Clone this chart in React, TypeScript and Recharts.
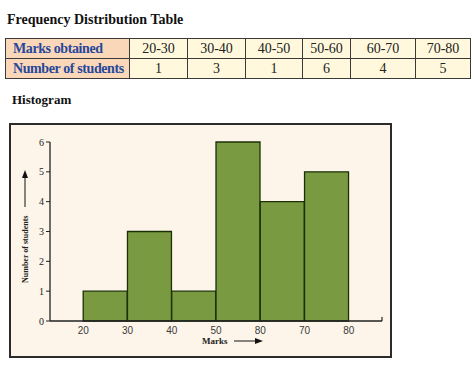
import React from 'react';
import { BarChart, Bar, XAxis, YAxis } from 'recharts';

const markRanges = ['20-30', '30-40', '40-50', '50-60', '60-70', '70-80'];
const binStarts = [20, 30, 40, 50, 60, 70];
const students = [1, 3, 1, 6, 4, 5];
const xTicks = [20, 30, 40, 50, 60, 70, 80];
// labels as printed in the source (the 60 tick reads "80")
const xTickLabels = ['20', '30', '40', '50', '80', '70', '80'];
const yTicks = [0, 1, 2, 3, 4, 5, 6];

const chartData = markRanges.map((range, i) => ({
  range,
  mid: binStarts[i] + 5,
  count: students[i],
}));

const serif = '"Liberation Serif", "Times New Roman", serif';
const sans = '"Liberation Sans", Arial, sans-serif';

const colWidths = [124, 58, 58, 57, 48, 65, 55];

const cellBase: React.CSSProperties = {
  border: '1.5px solid #3a3a3a',
  padding: 0,
  height: 19,
  lineHeight: '19px',
  fontFamily: serif,
  fontSize: 14,
  textAlign: 'center',
  background: '#fff8dc',
  color: '#222',
};

const headCell: React.CSSProperties = {
  ...cellBase,
  background: '#fad7b9',
  color: '#27479a',
  fontWeight: 'bold',
  textAlign: 'left',
  paddingLeft: 7,
  letterSpacing: -0.4,
  whiteSpace: 'nowrap',
};

export default function App() {
  return (
    <div style={{ position: 'absolute', left: 0, top: 0, width: 474, height: 368, background: '#fff', overflow: 'hidden' }}>
      <div style={{ position: 'absolute', left: 7, top: 12, fontFamily: serif, fontWeight: 'bold', fontSize: 14, color: '#111' }}>
        Frequency Distribution Table
      </div>
      <table
        style={{
          position: 'absolute',
          left: 5,
          top: 38,
          borderCollapse: 'collapse',
          tableLayout: 'fixed',
          width: 466,
        }}
      >
        <colgroup>
          {colWidths.map((w, i) => (
            <col key={i} style={{ width: w }} />
          ))}
        </colgroup>
        <tbody>
          <tr>
            <td style={headCell}>Marks obtained</td>
            {markRanges.map((r) => (
              <td key={r} style={cellBase}>{r}</td>
            ))}
          </tr>
          <tr>
            <td style={headCell}>Number of students</td>
            {students.map((s, i) => (
              <td key={i} style={cellBase}>{s}</td>
            ))}
          </tr>
        </tbody>
      </table>
      <div style={{ position: 'absolute', left: 12, top: 92, fontFamily: serif, fontWeight: 'bold', fontSize: 13, color: '#111' }}>
        Histogram
      </div>
      <div
        style={{
          position: 'absolute',
          left: 9,
          top: 123,
          width: 379,
          height: 231,
          border: '2px solid #2b2b2b',
          background: '#fdf5e9',
        }}
      />
      <div style={{ position: 'absolute', left: 9, top: 123 }}>
        <BarChart
          width={382}
          height={234}
          data={chartData}
          barCategoryGap={0}
          margin={{ top: 19, right: 9, bottom: 6, left: 0 }}
        >
          <XAxis
            type="number"
            dataKey="mid"
            domain={[12.5, 87.5]}
            ticks={xTicks}
            interval={0}
            height={30}
            tickFormatter={(_v: number, i: number) => xTickLabels[i]}
            tickLine={false}
            axisLine={{ stroke: '#222', strokeWidth: 1.3 }}
            tick={{ fill: '#3a3a3a', fontSize: 10, fontFamily: sans }}
            tickMargin={0}
          />
          <YAxis
            type="number"
            domain={[0, 6]}
            ticks={yTicks}
            interval={0}
            width={41}
            tickSize={4}
            tickMargin={2}
            axisLine={{ stroke: '#222', strokeWidth: 1.3 }}
            tickLine={{ stroke: '#222' }}
            tick={{ fill: '#222', fontSize: 10, fontFamily: serif }}
          />
          <Bar
            dataKey="count"
            fill="#7a9a42"
            stroke="#1c3006"
            strokeWidth={1.3}
            isAnimationActive={false}
          />
        </BarChart>
      </div>
      <svg width={474} height={368} style={{ position: 'absolute', left: 0, top: 0, pointerEvents: 'none' }}>
        <line x1={382} y1={321} x2={382} y2={317} stroke="#222" strokeWidth={1.2} />
        <text
          x={0}
          y={0}
          transform="translate(28,283) rotate(-90)"
          fontFamily={serif}
          fontWeight="bold"
          fontSize={8}
          fill="#222"
        >
          Number of students
        </text>
        <line x1={25} y1={207} x2={25} y2={177} stroke="#111" strokeWidth={1} />
        <polygon points="25,170 22,178 28,178" fill="#111" />
        <text x={202} y={344} fontFamily={serif} fontWeight="bold" fontSize={9} fill="#222">
          Marks
        </text>
        <line x1={234} y1={341} x2={256} y2={341} stroke="#111" strokeWidth={1} />
        <polygon points="263,341 255,338 255,344" fill="#111" />
      </svg>
    </div>
  );
}
